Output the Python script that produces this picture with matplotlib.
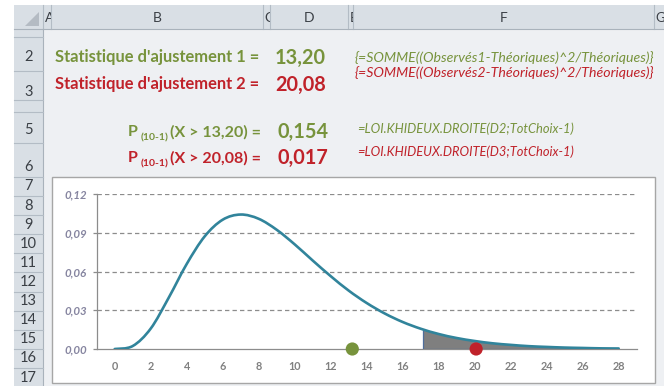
import numpy as np
import matplotlib.pyplot as plt
from matplotlib.path import Path
from matplotlib.patches import PathPatch, Rectangle, Polygon
from matplotlib.transforms import Bbox, TransformedBbox

plt.rcParams['font.family'] = ['Lato', 'DejaVu Sans']

# --- DATA (chi-square density, 9 degrees of freedom) ---
x_vals = list(range(0, 29))
density = [0.0, 0.0023, 0.0158, 0.0397, 0.0658, 0.0872, 0.1001, 0.1041,
           0.1008, 0.0923, 0.0810, 0.0685, 0.0564, 0.0452, 0.0356, 0.0275,
           0.0209, 0.0157, 0.0116, 0.0085, 0.0062, 0.0044, 0.0032, 0.0022,
           0.0016, 0.0011, 0.0008, 0.0005, 0.0004]
stat_values = [13.20, 20.08]
p_values = [0.154, 0.017]
shade_start = 17.1
y_ticks = [0.00, 0.03, 0.06, 0.09, 0.12]
x_ticks = list(range(0, 29, 2))

GREEN = '#77933c'
RED = '#c0222a'
TEAL = '#31849b'

W, H = 664, 386


def fmt(v, nd):
    return f"{v:.{nd}f}".replace('.', ',')


def smooth_path(xs, ys):
    # Catmull-Rom style Bezier, like Excel's smoothed lines
    pts = np.column_stack([xs, ys]).astype(float)
    verts = [pts[0]]
    codes = [Path.MOVETO]
    n = len(pts)
    for i in range(n - 1):
        p0 = pts[i - 1] if i > 0 else pts[i]
        p1, p2 = pts[i], pts[i + 1]
        p3 = pts[i + 2] if i + 2 < n else pts[i + 1]
        verts += [p1 + (p2 - p0) / 6, p2 - (p3 - p1) / 6, p2]
        codes += [Path.CURVE4] * 3
    return verts, codes


fig = plt.figure(figsize=(W / 100, H / 100), dpi=100)

# --- spreadsheet background, in pixel coordinates ---
bg = fig.add_axes([0, 0, 1, 1])
bg.set_xlim(0, W)
bg.set_ylim(H, 0)
bg.axis('off')


def clip_to(t, x0, y0, x1, y1):
    t.set_clip_on(True)
    t.set_clip_path(None)
    t.set_clip_box(TransformedBbox(Bbox([[x0, y0], [x1, y1]]), bg.transData))


HDR = '#d9dfe5'
LINE = '#b3bcc5'
bg.add_patch(Rectangle((14, 29), W - 14, H - 29, color='#eef0f3', lw=0))
bg.add_patch(Rectangle((14, 5), W - 14, 24, color=HDR, lw=0))
bg.add_patch(Rectangle((14, 5), 29, H - 5, color=HDR, lw=0))
bg.add_patch(Polygon([(39, 12), (39, 26), (25, 26)], color='#b4bbc3', lw=0))

col_edges = [43, 51, 263, 270, 348, 353, 654]
for cx in col_edges:
    bg.plot([cx, cx], [5, 29], color=LINE, lw=0.8)
bg.plot([14, W], [29, 29], color='#a9b2bb', lw=0.8)
bg.plot([43, 43], [29, H], color='#a9b2bb', lw=0.8)

col_letters = ['A', 'B', 'C', 'D', 'E', 'F', 'G']
col_spans = [(43, 51), (51, 263), (263, 270), (270, 348), (348, 353), (353, 654), (654, 664)]
for letter, (c0, c1) in zip(col_letters, col_spans):
    if c1 - c0 > 40:
        bg.text((c0 + c1) / 2, 18, letter, ha='center', va='center',
                fontsize=10, color='#3a3f45')
    elif letter == 'G':
        bg.text(c0 + 1.5, 18, letter, ha='left', va='center',
                fontsize=9.5, color='#3a3f45')
    else:
        t = bg.text(c0 + 1.5, 18, letter, ha='left', va='center',
                    fontsize=10, color='#3a3f45')
        clip_to(t, c0, 5, c1 - 0.5, 29)

row_edges = [29, 37, 71, 100, 112, 143, 177] + [196 + 19.1 * k for k in range(11)]
row_label_y = [25.5, 57, 92, None, 130, 167] + [186.5 + 19.1 * k for k in range(11)]
for ry in row_edges[1:]:
    bg.plot([14, 43], [ry, ry], color=LINE, lw=0.8)
for k in range(len(row_edges) - 1):
    if row_label_y[k] is None:
        continue
    top, bot = row_edges[k], row_edges[k + 1]
    t = bg.text(28.5, row_label_y[k], str(k + 1), ha='center', va='center',
                fontsize=10.5, color='#3a3f45')
    clip_to(t, 14, top + 0.5, 43, bot)

# statistics text
labels_stat = ["Statistique d'ajustement 1 =", "Statistique d'ajustement 2 ="]
formulas_stat = ["{=SOMME((Observés1-Théoriques)^2/Théoriques)}",
                 "{=SOMME((Observés2-Théoriques)^2/Théoriques)}"]
formulas_p = ["=LOI.KHIDEUX.DROITE(D2;TotChoix-1)",
              "=LOI.KHIDEUX.DROITE(D3;TotChoix-1)"]
colors = [GREEN, RED]
stat_y = [57, 84]
form_y = [58, 73]
p_y = [131, 157]
formp_y = [129, 152]

for i in range(2):
    c = colors[i]
    bg.text(55, stat_y[i], labels_stat[i], ha='left', va='center',
            fontsize=11.9, fontweight='bold', color=c)
    bg.text(275, stat_y[i] + 1, fmt(stat_values[i], 2), ha='left', va='center',
            fontsize=14.3, fontweight='bold', color=c)
    bg.text(355, form_y[i], formulas_stat[i], ha='left', va='center',
            fontsize=10.2, style='italic', color=c)

    t1 = bg.text(128, p_y[i] + 5.5, "P", ha='left', va='baseline',
                 fontsize=11.5, fontweight='bold', color=c)
    t2 = bg.annotate("(10-1)", xy=(1, 0), xycoords=t1, xytext=(2, -2.5),
                     textcoords='offset points', ha='left', va='bottom',
                     fontsize=7.5, fontweight='bold', color=c)
    bg.annotate(f"(X > {fmt(stat_values[i], 2)}) =", xy=(1, 0), xycoords=(t2, t1),
                xytext=(1, 0), textcoords='offset points', ha='left', va='bottom',
                fontsize=11.5, fontweight='bold', color=c)
    bg.text(277, p_y[i] + 1, fmt(p_values[i], 3), ha='left', va='center',
            fontsize=14.3, fontweight='bold', color=c)
    bg.text(357, formp_y[i], formulas_p[i], ha='left', va='center',
            fontsize=9.3, style='italic', color=c)

# chart frame
bg.add_patch(Rectangle((52, 177), 603, 206, facecolor='white',
                       edgecolor='#a6a6a6', lw=1.0))

# --- the chart ---
left, right, top, bottom = 96.7, 636.7, 194, 349
ax = fig.add_axes([left / W, 1 - bottom / H, (right - left) / W, (bottom - top) / H])
ax.set_facecolor('none')
ax.set_xlim(-1, 29)
ax.set_ylim(0, 0.12)

verts, codes = smooth_path(x_vals, density)
area = PathPatch(Path(verts + [(x_vals[-1], 0), (x_vals[0], 0), (0, 0)],
                      codes + [Path.LINETO, Path.LINETO, Path.CLOSEPOLY]),
                 facecolor='none', edgecolor='none')
ax.add_patch(area)
shade = Rectangle((shade_start, 0), x_vals[-1] - shade_start, 0.12,
                  facecolor='#7f7f7f', edgecolor='#4f6e9c', lw=0.9, zorder=2)
ax.add_patch(shade)
shade.set_clip_path(area)

ax.add_patch(PathPatch(Path(verts, codes), fill=False, edgecolor=TEAL,
                       lw=1.9, capstyle='round', zorder=3))

ax.scatter(stat_values, [0, 0], s=90, c=colors, zorder=5, clip_on=False,
           linewidths=0)

for yv in y_ticks[1:]:
    ax.axhline(yv, color='#8c8c8c', lw=0.9, ls=(0, (3.5, 2.5)), zorder=1)

for side in ['top', 'right']:
    ax.spines[side].set_visible(False)
ax.spines['left'].set_color('#8c8c8c')
ax.spines['bottom'].set_color('#8c8c8c')
ax.spines['left'].set_linewidth(0.9)
ax.spines['bottom'].set_linewidth(0.9)
ax.spines['bottom'].set_zorder(1)

ax.set_yticks(y_ticks)
ax.set_yticklabels([fmt(v, 2) for v in y_ticks], fontsize=8.3, style='italic',
                   fontweight='bold', color='#8685a0')
ax.tick_params(axis='y', length=3, width=0.9, color='#8c8c8c', pad=4)
ax.set_xticks(x_ticks)
ax.set_xticklabels([str(v) for v in x_ticks], fontsize=7.8, fontweight='bold',
                   color='#808080')
ax.tick_params(axis='x', length=0, pad=9)

fig.savefig('out.png', dpi=100)
